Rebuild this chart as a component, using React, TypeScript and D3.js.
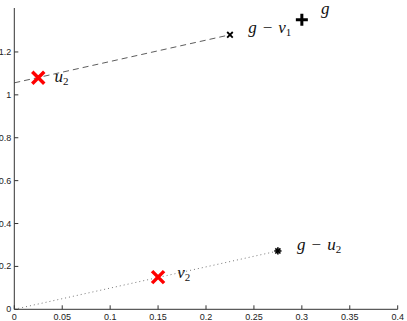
import React from 'react';
import * as d3 from 'd3';

// vectors (x, y in axis units)
const redCrosses = [
  { name: 'u2', x: 0.025, y: 1.08 },
  { name: 'v2', x: 0.15, y: 0.15 },
];
const plusPoint = { x: 0.3, y: 1.35 };
const smallCross = { x: 0.225, y: 1.28 };
const starPoint = { x: 0.275, y: 0.272 };

const dashedLine = [[0, 1.056], [0.225, 1.28]];
const dottedLine = [[0, 0], [0.275, 0.272]];

// text labels, placed at data coordinates like matlab text()
const labels = [
  { main: 'u', sub: '2', prefix: '', x: 0.042, y: 1.062 },
  { main: 'v', sub: '2', prefix: '', x: 0.17, y: 0.147 },
  { main: 'v', sub: '1', prefix: 'g', x: 0.244, y: 1.29 },
  { main: 'u', sub: '2', prefix: 'g', x: 0.295, y: 0.275 },
  { main: 'g', sub: '', prefix: '', x: 0.32, y: 1.375 },
];

const xTicks = [0, 0.05, 0.1, 0.15, 0.2, 0.25, 0.3, 0.35, 0.4];
const yTicks = [0, 0.2, 0.4, 0.6, 0.8, 1, 1.2];

const W = 407;
const H = 321;

export default function App() {
  const x = d3.scaleLinear().domain([0, 0.4]).range([14.3, 397.7]);
  const y = d3.scaleLinear().domain([0, 1.405]).range([309.3, 8]);
  const line = d3.line<number[]>().x(d => x(d[0])).y(d => y(d[1]));
  const axisCol = '#333';
  const tickFont = { fontFamily: 'Liberation Sans, Arial, sans-serif', fontSize: 9, fill: '#222' };
  const mathFont = { fontFamily: 'Liberation Serif, Times New Roman, serif', fontStyle: 'italic', fontSize: 17, fill: '#111' };

  return (
    <div style={{ position: 'absolute', left: 0, top: 0, width: W, height: H, background: 'white' }}>
      <svg width={W} height={H}>
        <rect width={W} height={H} fill="white" />
        {/* axes */}
        <line x1={x(0)} x2={x(0.4)} y1={y(0)} y2={y(0)} stroke={axisCol} strokeWidth={1} />
        <line x1={x(0)} x2={x(0)} y1={y(0)} y2={y(1.405)} stroke={axisCol} strokeWidth={1} />
        {xTicks.map(t => (
          <g key={'x' + t}>
            <line x1={x(t)} x2={x(t)} y1={y(0)} y2={y(0) - 4} stroke={axisCol} />
            <text x={x(t)} y={319.5} textAnchor="middle" {...tickFont}>{t}</text>
          </g>
        ))}
        {yTicks.map(t => (
          <g key={'y' + t}>
            <line x1={x(0)} x2={x(0) + 4} y1={y(t)} y2={y(t)} stroke={axisCol} />
            <text x={x(0) - 3} y={y(t) + 3} textAnchor="end" {...tickFont}>{t}</text>
          </g>
        ))}

        {/* lines */}
        <path d={line(dashedLine) || ''} fill="none" stroke="#333" strokeWidth={0.8} strokeDasharray="6 4" />
        <path d={line(dottedLine) || ''} fill="none" stroke="#555" strokeWidth={0.8} strokeDasharray="1 3" />

        {/* markers */}
        {redCrosses.map(p => (
          <path key={p.name}
            d={`M${x(p.x) - 6},${y(p.y) - 6}L${x(p.x) + 6},${y(p.y) + 6}M${x(p.x) - 6},${y(p.y) + 6}L${x(p.x) + 6},${y(p.y) - 6}`}
            stroke="red" strokeWidth={3.5} fill="none" />
        ))}
        <path d={`M${x(plusPoint.x) - 6},${y(plusPoint.y)}H${x(plusPoint.x) + 6}M${x(plusPoint.x)},${y(plusPoint.y) - 6}V${y(plusPoint.y) + 6}`}
          stroke="#000" strokeWidth={3} fill="none" />
        <path d={`M${x(smallCross.x) - 2.8},${y(smallCross.y) - 2.8}L${x(smallCross.x) + 2.8},${y(smallCross.y) + 2.8}M${x(smallCross.x) - 2.8},${y(smallCross.y) + 2.8}L${x(smallCross.x) + 2.8},${y(smallCross.y) - 2.8}`}
          stroke="#000" strokeWidth={1.8} fill="none" />
        <g transform={`translate(${x(starPoint.x)},${y(starPoint.y)})`} stroke="#000" strokeWidth={1.6}>
          {[0, 45, 90, 135].map(a => (
            <line key={a} x1={-3.6} x2={3.6} y1={0} y2={0} transform={`rotate(${a})`} />
          ))}
        </g>

        {/* labels */}
        {labels.map((l, i) => (
          <text key={i} x={x(l.x)} y={y(l.y)} {...mathFont}>
            {l.prefix && <tspan>{l.prefix}</tspan>}
            {l.prefix && <tspan fontStyle="normal" dx={6}>−</tspan>}
            <tspan dx={l.prefix ? 6 : 0}>{l.main}</tspan>
            {l.sub && <tspan fontStyle="normal" fontSize={11} dy={3}>{l.sub}</tspan>}
          </text>
        ))}
      </svg>
    </div>
  );
}
